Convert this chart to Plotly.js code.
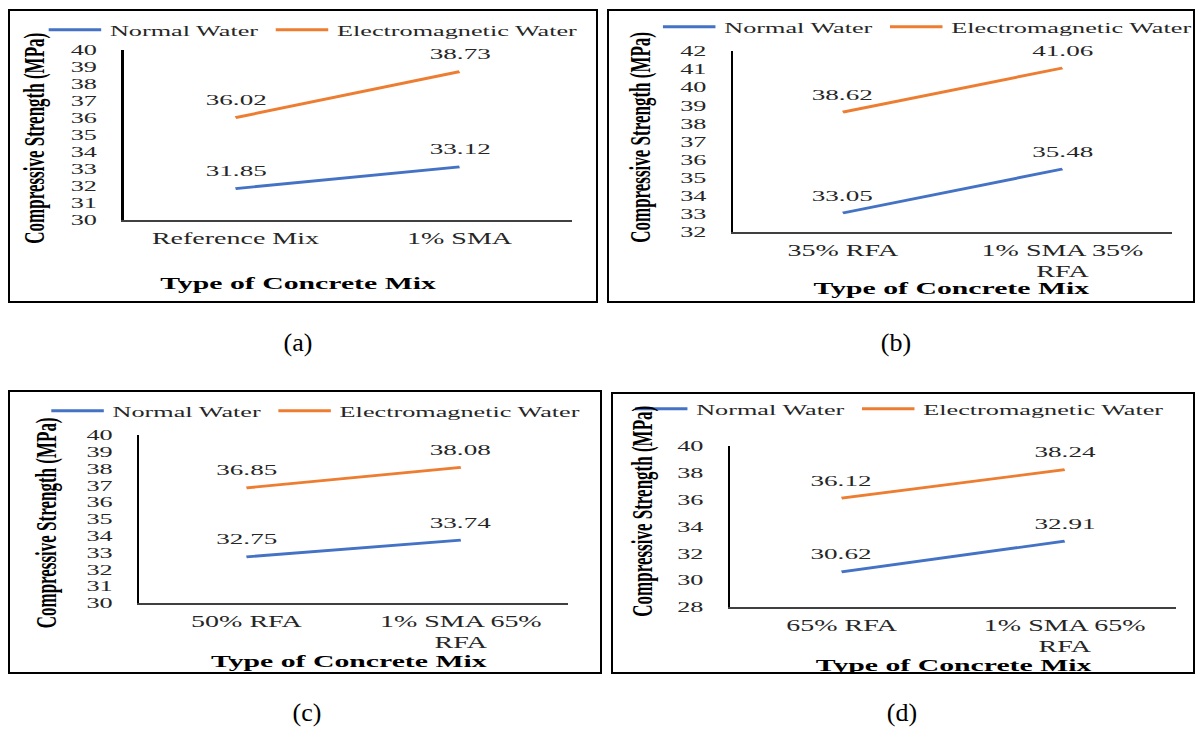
<!DOCTYPE html>
<html>
<head>
<meta charset="utf-8">
<script src="https://cdn.plot.ly/plotly-3.0.1.min.js"></script>
<style>
  html, body { margin: 0; padding: 0; background: #fff; }
  body { width: 1198px; height: 731px; position: relative; overflow: hidden; }
  .frame { position: absolute; box-sizing: border-box; border: 2px solid #000; pointer-events: none; }
  .cap { position: absolute; font-family: "Liberation Serif", "Times New Roman", serif; font-size: 26px; color: #000; transform: translate(-50%, -50%); white-space: nowrap; }
</style>
</head>
<body>
<script>
// ---------------- DATA ----------------
const seriesNames = ['Normal Water', 'Electromagnetic Water'];

const catsA = ['Reference Mix', '1% SMA'];
const tickTextA = ['Reference Mix', '1% SMA'];
const normalA = [31.85, 33.12];
const emA = [36.02, 38.73];

const catsB = ['35% RFA', '1% SMA 35% RFA'];
const tickTextB = ['35% RFA', '1% SMA 35%<br>RFA'];
const normalB = [33.05, 35.48];
const emB = [38.62, 41.06];

const catsC = ['50% RFA', '1% SMA 65% RFA'];
const tickTextC = ['50% RFA', '1% SMA 65%<br>RFA'];
const normalC = [32.75, 33.74];
const emC = [36.85, 38.08];

const catsD = ['65% RFA', '1% SMA 65% RFA'];
const tickTextD = ['65% RFA', '1% SMA 65%<br>RFA'];
const normalD = [30.62, 32.91];
const emD = [36.12, 38.24];

const yRangeA = [30, 40], yStepA = 1;
const yRangeB = [32, 42], yStepB = 1;
const yRangeC = [30, 40], yStepC = 1;
const yRangeD = [28, 40], yStepD = 2;

const panelLabels = ['(a)', '(b)', '(c)', '(d)'];
const xTitle = 'Type of Concrete Mix';
const yTitle = 'Compressive Strength (MPa)';

// ---------------- STYLE / LAYOUT ----------------
const S = 1.75; // horizontal stretch of the original figure
const FONT = '"Liberation Serif", "Times New Roman", serif';
const colors = ['#4472C4', '#ED7D31'];

const panels = [
  { cats: catsA, ticks: tickTextA, series: [normalA, emA], yr: yRangeA, dy: yStepA,
    box: [8, 9, 598, 303], plot: [123, 572, 50, 220],
    legend: [48, 30], ytitle: [33, 138], xtitle: [298, 283], cap: [298, 343] },
  { cats: catsB, ticks: tickTextB, series: [normalB, emB], yr: yRangeB, dy: yStepB,
    box: [607, 9, 1195, 303], plot: [733, 1172, 51, 232],
    legend: [663, 27], ytitle: [640, 137], xtitle: [951, 288], cap: [896, 343] },
  { cats: catsC, ticks: tickTextC, series: [normalC, emC], yr: yRangeC, dy: yStepC,
    box: [8, 390, 602, 674], plot: [140, 569, 435, 603],
    legend: [52, 411], ytitle: [46, 523], xtitle: [350, 661], cap: [307, 713] },
  { cats: catsD, ticks: tickTextD, series: [normalD, emD], yr: yRangeD, dy: yStepD,
    box: [611, 392, 1195, 674], plot: [730, 1176, 446, 607],
    legend: [635, 409], ytitle: [642, 511], xtitle: [953, 665], cap: [902, 713] }
];

panels.forEach((p, idx) => {
  const [bx0, by0, bx1, by1] = p.box;
  const [axL, axR, axT, axB] = p.plot;
  const W = bx1 - bx0, H = by1 - by0;
  const px = X => (X - axL) / (axR - axL);
  const py = Y => (axB - Y) / (axB - axT);

  const div = document.createElement('div');
  div.style.cssText = `position:absolute;left:${bx0}px;top:${by0}px;width:${W / S}px;height:${H}px;transform:scaleX(${S});transform-origin:0 0;`;
  document.body.appendChild(div);

  const traces = p.series.map((vals, i) => ({
    type: 'scatter', mode: 'lines', name: seriesNames[i],
    x: p.cats, y: vals,
    line: { color: colors[i], width: 2.8 },
    hoverinfo: 'skip'
  }));

  const annotations = [];
  p.series.forEach((vals) => {
    vals.forEach((v, j) => {
      annotations.push({
        x: p.cats[j], y: v, xref: 'x', yref: 'y', text: v.toFixed(2),
        showarrow: false, yshift: 18, xanchor: 'center', yanchor: 'middle',
        font: { family: FONT, size: 15.5, color: '#262626' }
      });
    });
  });
  annotations.push({
    xref: 'paper', yref: 'paper', x: px(p.xtitle[0]), y: py(p.xtitle[1]),
    xanchor: 'center', yanchor: 'middle', showarrow: false, text: '<b>' + xTitle + '</b>',
    font: { family: FONT, size: 17, color: '#000' }
  });
  annotations.push({
    xref: 'paper', yref: 'paper', x: px(p.ytitle[0]), y: py(p.ytitle[1]),
    xanchor: 'center', yanchor: 'middle', showarrow: false, textangle: -90,
    text: '<b>' + yTitle + '</b>',
    font: { family: FONT, size: 17, color: '#000' }
  });

  const layout = {
    width: W / S, height: H,
    margin: { l: (axL - bx0) / S, r: (bx1 - axR) / S, t: axT - by0, b: by1 - axB, pad: 0, autoexpand: false },
    paper_bgcolor: 'rgba(0,0,0,0)', plot_bgcolor: 'rgba(0,0,0,0)',
    showlegend: true,
    legend: {
      orientation: 'h', xref: 'paper', yref: 'paper',
      x: px(p.legend[0] - 5 * S), y: py(p.legend[1]), xanchor: 'left', yanchor: 'middle',
      font: { family: FONT, size: 15, color: '#262626' },
      bgcolor: 'rgba(0,0,0,0)', borderwidth: 0
    },
    xaxis: {
      type: 'category', range: [-0.5, 1.5], fixedrange: true,
      tickmode: 'array', tickvals: p.cats, ticktext: p.ticks,
      showline: true, linecolor: '#404040', linewidth: 1.6,
      showgrid: false, zeroline: false, ticks: '', ticklabelstandoff: 3,
      tickfont: { family: FONT, size: 16, color: '#262626' }
    },
    yaxis: {
      range: p.yr, tick0: p.yr[0], dtick: p.dy, fixedrange: true,
      showline: true, linecolor: '#000', linewidth: 1.2,
      showgrid: false, zeroline: false, ticks: '', ticklabelstandoff: 11,
      tickfont: { family: FONT, size: 15, color: '#262626' }
    },
    annotations: annotations
  };

  Plotly.newPlot(div, traces, layout, { staticPlot: true, displayModeBar: false });

  const frame = document.createElement('div');
  frame.className = 'frame';
  frame.style.cssText = `left:${bx0}px;top:${by0}px;width:${W}px;height:${H}px;`;
  document.body.appendChild(frame);

  const cap = document.createElement('div');
  cap.className = 'cap';
  cap.textContent = panelLabels[idx];
  cap.style.left = p.cap[0] + 'px';
  cap.style.top = p.cap[1] + 'px';
  document.body.appendChild(cap);
});
</script>
</body>
</html>
